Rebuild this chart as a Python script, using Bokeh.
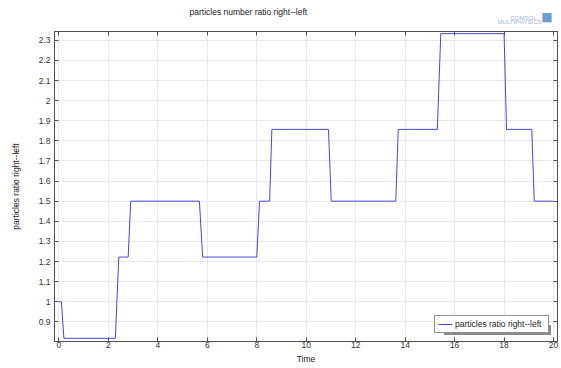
from bokeh.plotting import figure
from bokeh.models import (Range1d, FixedTicker, CustomJSTickFormatter, LinearAxis,
                          Legend, LegendItem, Title)
from bokeh.embed import file_html
from bokeh.resources import INLINE

# ---- data ----
time = [0.0, 0.1, 0.2, 2.28, 2.42, 2.8, 2.9, 5.68, 5.81, 8.0, 8.11, 8.52, 8.61,
        10.9, 11.01, 13.62, 13.72, 15.3, 15.44, 18.0, 18.1, 19.12, 19.22, 20.0]
ratio = [1.0, 1.0, 0.818, 0.818, 1.222, 1.222, 1.5, 1.5, 1.222, 1.222, 1.5, 1.5, 1.857,
         1.857, 1.5, 1.5, 1.857, 1.857, 2.333, 2.333, 1.857, 1.857, 1.5, 1.5]
x_ticks = [0, 2, 4, 6, 8, 10, 12, 14, 16, 18, 20]
y_ticks = [0.9, 1.0, 1.1, 1.2, 1.3, 1.4, 1.5, 1.6, 1.7, 1.8, 1.9, 2.0, 2.1, 2.2, 2.3]
title_text = "particles number ratio right--left"
x_label = "Time"
y_label = "particles ratio right--left"
series_label = "particles ratio right--left"
logo_lines = ["COMSOL", "MULTIPHYSICS"]

FONT = "Liberation Sans"
FS = "8.5px"
AXC = "#505050"

p = figure(width=561, height=368, output_backend="svg", toolbar_location=None,
           x_range=Range1d(-0.18, 20.16), y_range=Range1d(0.8022, 2.3437),
           min_border_left=54, min_border_right=4, min_border_top=31, min_border_bottom=27,
           background_fill_color="white", border_fill_color="white",
           outline_line_color=AXC)

p.title.text = title_text
p.title.text_font = FONT
p.title.text_font_size = FS
p.title.text_font_style = "normal"
p.title.text_color = "#222222"
p.title.align = "left"
p.title.offset = 135
p.title.standoff = -4

fmt = CustomJSTickFormatter(code="return String(Math.round(tick*10)/10)")

for ax in (p.xaxis[0], p.yaxis[0]):
    ax.axis_line_color = AXC
    ax.major_tick_line_color = AXC
    ax.major_tick_in = 4
    ax.major_tick_out = 0
    ax.minor_tick_line_color = None
    ax.major_label_text_font = FONT
    ax.major_label_text_font_size = FS
    ax.major_label_text_color = "#333333"
    ax.axis_label_text_font = FONT
    ax.axis_label_text_font_size = FS
    ax.axis_label_text_font_style = "normal"
    ax.axis_label_text_color = "#222222"
    ax.formatter = fmt

p.xaxis.ticker = FixedTicker(ticks=x_ticks)
p.yaxis.ticker = FixedTicker(ticks=y_ticks)
p.xaxis.axis_label = x_label
p.yaxis.axis_label = y_label
p.xaxis.major_label_standoff = 0
p.xaxis.axis_label_standoff = 3
p.yaxis.major_label_standoff = 4
p.yaxis.axis_label_standoff = 15

# tick marks on top and right frame edges
top = LinearAxis(ticker=FixedTicker(ticks=x_ticks), major_tick_in=4, major_tick_out=0,
                 minor_tick_line_color=None, major_label_text_font_size="0px",
                 major_label_standoff=0, axis_line_color=AXC, major_tick_line_color=AXC)
right = LinearAxis(ticker=FixedTicker(ticks=y_ticks), major_tick_in=4, major_tick_out=0,
                   minor_tick_line_color=None, major_label_text_font_size="0px",
                   major_label_standoff=0, axis_line_color=AXC, major_tick_line_color=AXC)
p.add_layout(top, "above")
p.add_layout(right, "right")

# spacer row, then the COMSOL logo (small right-aligned titles in the top border)
spacer = Title(text=" ", text_font_size="1px", standoff=2)
logo2 = Title(text=logo_lines[1], align="right", offset=16, standoff=4,
              text_font=FONT, text_font_size="6px", text_font_style="normal",
              text_color="#9fb9d8")
logo1 = Title(text=logo_lines[0], align="right", offset=21, standoff=-13,
              text_font=FONT, text_font_size="6px", text_font_style="normal",
              text_color="#9fb9d8")
icon = Title(text="\u25a0", align="right", offset=5, standoff=-18,
             text_font="DejaVu Sans", text_font_size="12px", text_font_style="normal",
             text_color="#6d9dd6")
p.add_layout(spacer, "above")
p.add_layout(logo2, "above")
p.add_layout(logo1, "above")
p.add_layout(icon, "above")

p.xgrid.ticker = FixedTicker(ticks=x_ticks)
p.ygrid.ticker = FixedTicker(ticks=y_ticks)
p.grid.grid_line_color = "#e9e9e9"
p.grid.grid_line_width = 1

line = p.line(time, ratio, line_color="#4646e0", line_width=1)
ghost = p.line([], [], line_alpha=0)

# legend shadow
shadow = Legend(items=[LegendItem(label=" ", renderers=[ghost])],
                location="bottom_right", margin=6, padding=3, spacing=0,
                glyph_width=14, glyph_height=10, label_standoff=3, label_width=90,
                label_text_font=FONT, label_text_font_size=FS,
                label_height=10, border_line_color=None,
                background_fill_color="#8a8a8a", background_fill_alpha=1.0)
leg = Legend(items=[LegendItem(label=series_label, renderers=[line])],
             location="bottom_right", margin=8, padding=3, spacing=0,
             glyph_width=14, glyph_height=10, label_standoff=3, label_width=90,
             label_text_font=FONT, label_text_font_size=FS, label_text_color="#222222",
             label_height=10, border_line_color="#222222", border_line_width=1,
             background_fill_color="white", background_fill_alpha=1.0)
p.add_layout(shadow, "center")
p.add_layout(leg, "center")

open("out.html", "w").write(file_html(p, INLINE))
